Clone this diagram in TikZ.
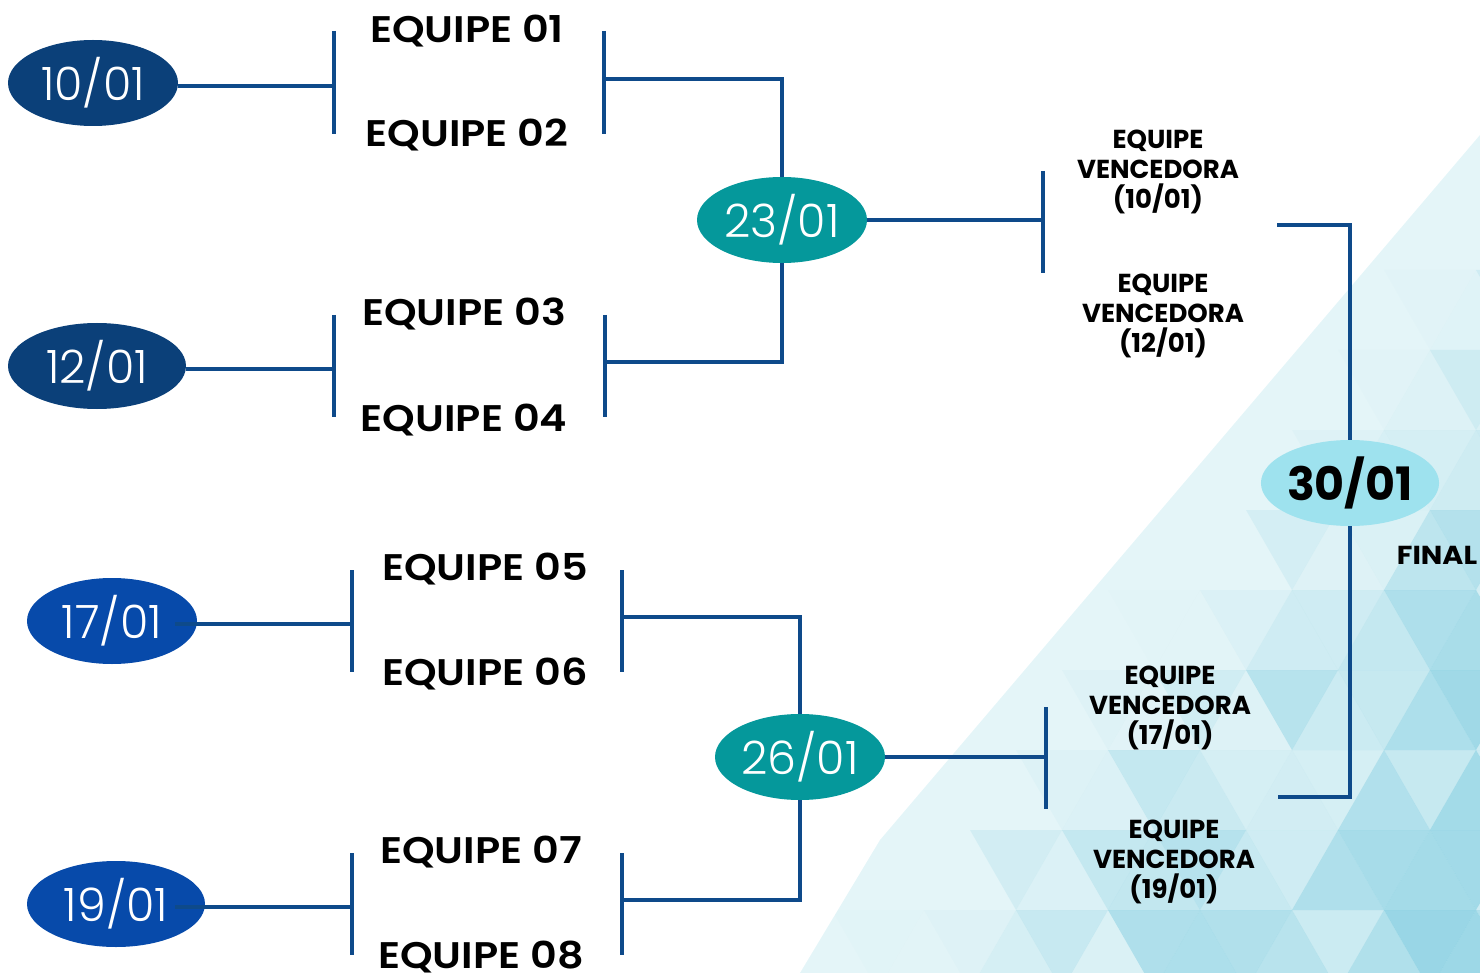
\documentclass[tikz,border=0pt]{standalone}
\usepackage{fontspec}
\setmainfont{Poppins}[BoldFont={Poppins SemiBold}]
\newfontfamily\datefont{Poppins Light}
\newfontfamily\heavyfont{Poppins Bold}
\usetikzlibrary{shapes.geometric}
\newcommand\swide[1]{\scalebox{1.12}[1]{#1}}
\newcommand\sfin[1]{\scalebox{1.1}[1]{#1}}
\definecolor{lineblue}{HTML}{0E4A8A}
\definecolor{navy}{HTML}{0B4079}
\definecolor{royal}{HTML}{074AAA}
\definecolor{tealc}{HTML}{05989B}
\definecolor{cyanl}{HTML}{9EE2EE}
\definecolor{bgbase}{HTML}{E4F5F8}
\definecolor{tric}{HTML}{6FC6DC}
\tikzset{
  ln/.style={draw=lineblue, line width=4pt},
  datebox/.style={ellipse, minimum width=170pt, minimum height=86pt, inner sep=0pt, text=white,
    font=\datefont\fontsize{46}{46}\selectfont},
  team/.style={anchor=base, font=\bfseries\fontsize{37}{37}\selectfont},
  winner/.style={align=center, font=\heavyfont\fontsize{26}{30}\selectfont},
}
\begin{document}
\begin{tikzpicture}[x=1pt,y=-1pt]
\useasboundingbox (0,0) rectangle (1480,973);
% background pattern
\begin{scope}
\clip (800,973) -- (880,840) -- (1480,135) -- (1480,973) -- cycle;
\fill[bgbase] (700,100) rectangle (1480,973);
\pgfmathsetseed{12}
\foreach \j in {0,...,11}{
  \foreach \k in {0,...,9}{
    \pgfmathsetmacro\xo{740+\k*92+mod(\j,2)*46}
    \pgfmathsetmacro\yo{110+\j*80}
    \pgfmathsetmacro\dd{max(0,min(1,((\xo-880)*0.761+(\yo-840)*0.648)/260))}
    \pgfmathsetmacro\ra{(0.1+rnd*0.55)*\dd}
    \pgfmathsetmacro\rb{(0.1+rnd*0.55)*\dd}
    \fill[tric, fill opacity=\ra] (\xo,\yo) -- (\xo+92,\yo) -- (\xo+46,\yo+80) -- cycle;
    \fill[tric, fill opacity=\rb] (\xo+92,\yo) -- (\xo+46,\yo+80) -- (\xo+138,\yo+80) -- cycle;
  }
}
\end{scope}
% date nodes
\node[datebox, fill=navy] (d10) at (93,83) {10/01};
\node[datebox, fill=navy, minimum width=178pt] (d12) at (97,366) {12/01};
\node[datebox, fill=royal] (d17) at (112,621) {17/01};
\node[datebox, fill=royal, minimum width=178pt] (d19) at (116,904) {19/01};
\node[datebox, fill=tealc] (d23) at (782,220) {23/01};
\node[datebox, fill=tealc] (d26) at (800,757) {26/01};
\node[datebox, fill=cyanl, text=black, font=\heavyfont\fontsize{46}{46}\selectfont] (d30) at (1350,483) {30/01};
% team names
\node[team] (t1) at (467,43) {\swide{EQUIPE 01}};
\node[team] (t2) at (467,147) {\swide{EQUIPE 02}};
\node[team] (t3) at (464,326) {\swide{EQUIPE 03}};
\node[team] (t4) at (464,431) {\swide{EQUIPE 04}};
\node[team] (t5) at (485,580) {\swide{EQUIPE 05}};
\node[team] (t6) at (485,685) {\swide{EQUIPE 06}};
\node[team] (t7) at (481,863) {\swide{EQUIPE 07}};
\node[team] (t8) at (481,968) {\swide{EQUIPE 08}};
% winners
\node[winner] (w10) at (1158,172) {EQUIPE\\VENCEDORA\\(10/01)};
\node[winner] (w12) at (1163,316) {EQUIPE\\VENCEDORA\\(12/01)};
\node[winner] (w17) at (1170,708) {EQUIPE\\VENCEDORA\\(17/01)};
\node[winner] (w19) at (1174,862) {EQUIPE\\VENCEDORA\\(19/01)};
\node[font=\heavyfont\fontsize{26}{26}\selectfont] (fin) at (1437,555) {\sfin{FINAL}};
% bracket coordinates
\coordinate (a1) at (334,86);  \coordinate (a1t) at (334,31);  \coordinate (a1b) at (334,134);
\coordinate (a2t) at (604,31); \coordinate (a2b) at (604,134); \coordinate (a2) at (604,79);
\coordinate (a3) at (782,79);
\coordinate (b1) at (334,369); \coordinate (b1t) at (334,315); \coordinate (b1b) at (334,417);
\coordinate (b2t) at (605,315); \coordinate (b2b) at (605,417); \coordinate (b2) at (605,362);
\coordinate (b3) at (782,362);
\coordinate (c1) at (352,624); \coordinate (c1t) at (352,570); \coordinate (c1b) at (352,672);
\coordinate (c2t) at (622,570); \coordinate (c2b) at (622,672); \coordinate (c2) at (622,617);
\coordinate (c3) at (800,617);
\coordinate (e1) at (352,907); \coordinate (e1t) at (352,853); \coordinate (e1b) at (352,955);
\coordinate (e2t) at (622,853); \coordinate (e2b) at (622,955); \coordinate (e2) at (622,900);
\coordinate (e3) at (800,900);
\coordinate (s1) at (1043,220); \coordinate (s1t) at (1043,171); \coordinate (s1b) at (1043,273);
\coordinate (s2) at (1046,757); \coordinate (s2t) at (1046,707); \coordinate (s2b) at (1046,809);
\coordinate (f1) at (1277,225); \coordinate (f2) at (1350,225);
\coordinate (f3) at (1350,797); \coordinate (f4) at (1278,797);
\coordinate (c0) at (175,624); \coordinate (e0) at (175,907);
% connectors
\draw[ln] (a1 -| d10.east) -- (a1);
\draw[ln] (a1t) -- (a1b);
\draw[ln] (a2t) -- (a2b);
\draw[ln] (a2) -- (a3) -- (d23.north);
\draw[ln] (b1 -| d12.east) -- (b1);
\draw[ln] (b1t) -- (b1b);
\draw[ln] (b2t) -- (b2b);
\draw[ln] (b2) -- (b3) -- (d23.south);
\draw[ln] (c0) -- (c1);
\draw[ln] (c1t) -- (c1b);
\draw[ln] (c2t) -- (c2b);
\draw[ln] (c2) -- (c3) -- (d26.north);
\draw[ln] (e0) -- (e1);
\draw[ln] (e1t) -- (e1b);
\draw[ln] (e2t) -- (e2b);
\draw[ln] (e2) -- (e3) -- (d26.south);
\draw[ln] (d23.east) -- (s1);
\draw[ln] (s1t) -- (s1b);
\draw[ln] (s2 -| d26.east) -- (s2);
\draw[ln] (s2t) -- (s2b);
\draw[ln] (f1) -- (f2) -- (d30.north);
\draw[ln] (d30.south) -- (f3) -- (f4);
\end{tikzpicture}
\end{document}
